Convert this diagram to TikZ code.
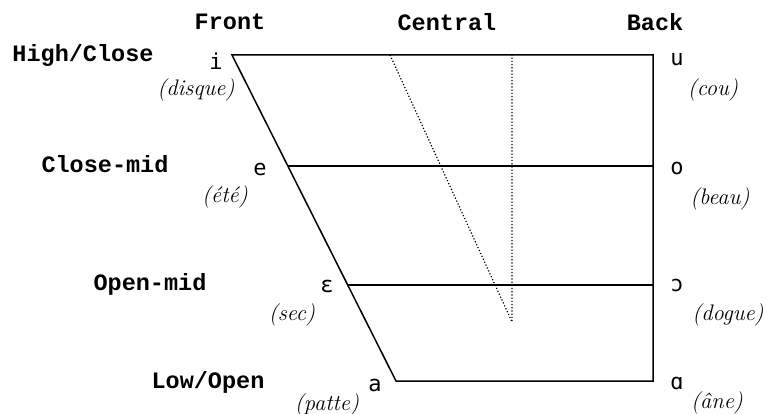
\documentclass[tikz,border=0pt]{standalone}
\usepackage{fontspec}
\newfontfamily\hdrfont{Liberation Mono}
\newfontfamily\vowfont{DejaVu Sans Mono}
\begin{document}
\begin{tikzpicture}[x=1pt,y=-1pt,
  hdr/.style={font=\hdrfont\bfseries\fontsize{23.5}{26}\selectfont, inner sep=0pt, anchor=center},
  vow/.style={font=\vowfont\fontsize{22}{24}\selectfont, inner sep=0pt, anchor=center},
  ex/.style={font=\itshape\fontsize{22.5}{24}\selectfont, inner sep=0pt, anchor=center},
  edge/.style={line width=1.5pt},
  dotline/.style={line width=1.2pt, dotted}]
\useasboundingbox (0,0) rectangle (766,414);
% corners
\coordinate (TL) at (232,55);
\coordinate (TR) at (653,55);
\coordinate (BL) at (396,381);
\coordinate (BR) at (653,381);
\coordinate (CML) at (287.8,166);
\coordinate (CMR) at (653,166);
\coordinate (OML) at (347.7,285);
\coordinate (OMR) at (653,285);
\coordinate (DT1) at (390,55);
\coordinate (DT2) at (512,55);
\coordinate (DB) at (512,322);
% outline
\draw[edge, line join=miter] (TR) -- (TL) -- (BL) -- (BR) -- cycle;
\draw[edge] (CML) -- (CMR);
\draw[edge] (OML) -- (OMR);
\draw[dotline] (DT1) -- (DB) -- (DT2);
% headers
\node[hdr] (front) at (230,22) {Front};
\node[hdr] (central) at (447,22) {Central};
\node[hdr] (back) at (655,22) {Back};
\node[hdr] (high) at (83,55) {High/Close};
\node[hdr] (closemid) at (105,164) {Close-mid};
\node[hdr] (openmid) at (150,284) {Open-mid};
\node[hdr] (low) at (208,382) {Low/Open};
% vowels
\node[vow] (vi) at (216,61) {i};
\node[vow] (ve) at (260,169) {e};
\node[vow] (veps) at (327,286) {ɛ};
\node[vow] (va) at (375,385) {a};
\node[vow] (vu) at (677,60) {u};
\node[vow] (vo) at (677,168) {o};
\node[vow] (vopeno) at (677,285) {ɔ};
\node[vow] (valpha) at (677,383) {ɑ};
% examples
\node[ex] (xdisque) at (196,90) {(disque)};
\node[ex] (xete) at (225,197) {(été)};
\node[ex] (xsec) at (292,315) {(sec)};
\node[ex] (xpatte) at (327,405) {(patte)};
\node[ex] (xcou) at (713,90) {(cou)};
\node[ex] (xbeau) at (720,199) {(beau)};
\node[ex] (xdogue) at (728,315) {(dogue)};
\node[ex] (xane) at (717,403) {(âne)};
\end{tikzpicture}
\end{document}
